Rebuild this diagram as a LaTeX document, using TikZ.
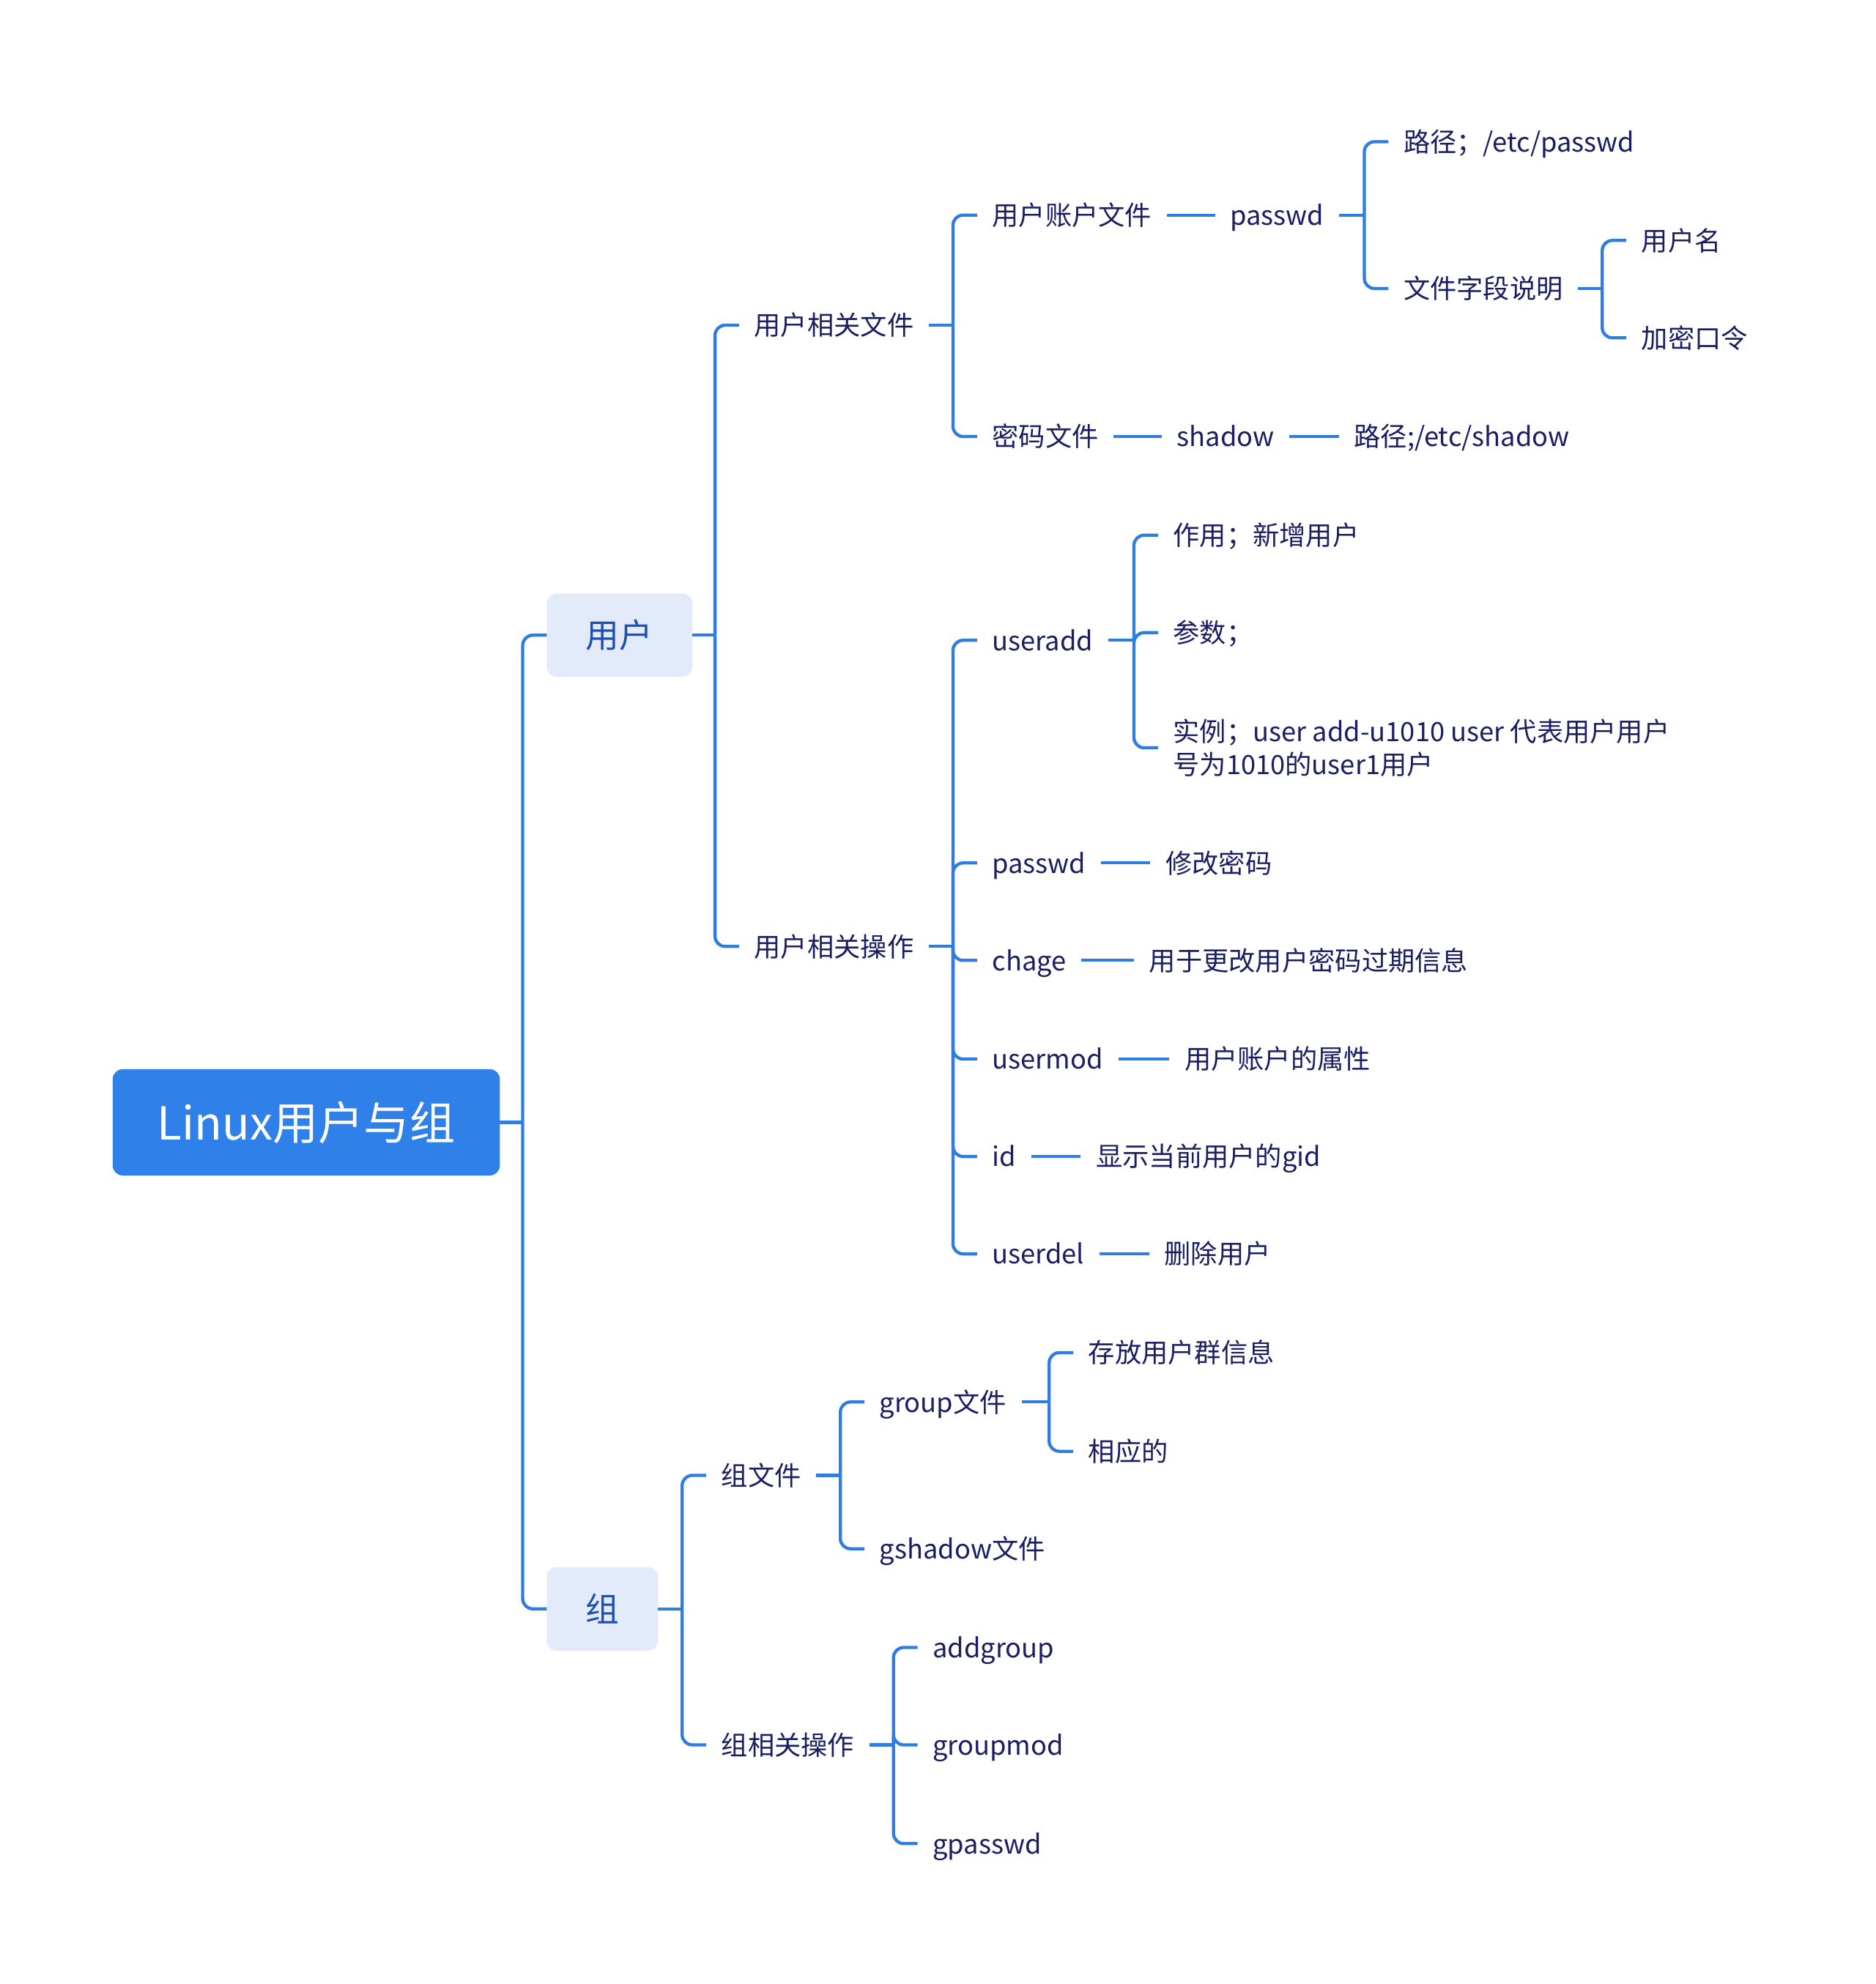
\documentclass[tikz,border=0pt]{standalone}
\usepackage{fontspec}
\setmainfont{Noto Sans CJK SC}
\usetikzlibrary{calc}
\definecolor{linec}{HTML}{2F7DE0}
\definecolor{txt}{HTML}{1A1F62}
\definecolor{rootc}{HTML}{2F80E8}
\definecolor{lvlfill}{HTML}{E3EBFB}
\definecolor{lvltxt}{HTML}{1D4FB0}
\newcommand\mybranch[3]{%
  \path (#2.west) ++(-19,0) coordinate (T);
  \draw[conn] (#1.east) -- (#1.east -| T);
  \foreach \c in {#3} {\draw[conn, rounded corners=4pt] (#1.east -| T) |- (\c.west);}
}
\begin{document}
\begin{tikzpicture}[x=0.5pt,y=-0.5pt,
  conn/.style={draw=linec, line width=1.25pt},
  leaf/.style={anchor=west, inner xsep=6pt, inner ysep=0pt, outer sep=0pt, text=txt,
    font=\fontsize{10.5pt}{13pt}\selectfont, text height=8.4pt, text depth=0.4pt},
  leafml/.style={anchor=west, inner xsep=6pt, inner ysep=0pt, outer sep=0pt, text=txt,
    font=\fontsize{10.5pt}{13pt}\selectfont, align=left},
  rootbox/.style={fill=rootc, text=white, rounded corners=4pt, minimum width=153pt,
    minimum height=42pt, inner sep=0pt, outer sep=0pt,
    font=\fontsize{18pt}{20pt}\selectfont, text height=14.4pt, text depth=0.7pt},
  lvlbox/.style={fill=lvlfill, text=lvltxt, rounded corners=4pt,
    minimum height=33pt, inner sep=0pt, outer sep=0pt,
    font=\fontsize{13.25pt}{15pt}\selectfont, text height=10.6pt, text depth=0.5pt}]
\useasboundingbox (0,0) rectangle (1482,1568);
\fill[white] (0,0) rectangle (1482,1568);

% root and level 1
\node[rootbox] (root) at (242,887) {Linux用户与组};
\node[lvlbox, minimum width=57.5pt] (u) at (489.5,502) {用户};
\node[lvlbox, minimum width=44pt] (g) at (476,1271.5) {组};

% users: files
\node[leaf] (f1) at (584,257) {用户相关文件};
\node[leaf] (o1) at (584,748) {用户相关操作};
\node[leaf] (a1) at (772,170) {用户账户文件};
\node[leaf] (a2) at (772,345) {密码文件};
\node[leaf] (pw) at (960,170) {passwd};
\node[leaf] (pp) at (1097,112) {路径；/etc/passwd};
\node[leaf] (fd) at (1097,228) {文件字段说明};
\node[leaf] (un) at (1285,190) {用户名};
\node[leaf] (ep) at (1285,267) {加密口令};
\node[leaf] (sh) at (918,345) {shadow};
\node[leaf] (sp) at (1058,345) {路径;/etc/shadow};

% users: operations
\node[leaf] (ua) at (772,506) {useradd};
\node[leaf] (ua1) at (915,423) {作用；新增用户};
\node[leaf] (ua2) at (915,500) {参数；};
\node[leafml] (ua3) at (915,591) {实例；user add-u1010 user 代表用户用户\\号为1010的user1用户};
\node[leaf] (p2) at (772,682) {passwd};
\node[leaf] (p2d) at (909,682) {修改密码};
\node[leaf] (ch) at (772,759) {chage};
\node[leaf] (chd) at (896,759) {用于更改用户密码过期信息};
\node[leaf] (um) at (772,837) {usermod};
\node[leaf] (umd) at (924,837) {用户账户的属性};
\node[leaf] (id) at (772,914) {id};
\node[leaf] (idd) at (854,914) {显示当前用户的gid};
\node[leaf] (ud) at (772,991) {userdel};
\node[leaf] (udd) at (908,991) {删除用户};

% groups
\node[leaf] (gf) at (558,1166) {组文件};
\node[leaf] (go) at (558,1379) {组相关操作};
\node[leaf] (gpf) at (683,1108) {group文件};
\node[leaf] (gsf) at (683,1224) {gshadow文件};
\node[leaf] (gi1) at (848,1069) {存放用户群信息};
\node[leaf] (gi2) at (848,1147) {相应的};
\node[leaf] (ag) at (725,1302) {addgroup};
\node[leaf] (gm) at (725,1379) {groupmod};
\node[leaf] (gp) at (725,1457) {gpasswd};

% connectors
\mybranch{root}{u}{u,g}
\mybranch{u}{f1}{f1,o1}
\mybranch{f1}{a1}{a1,a2}
\draw[conn] (a1.east) -- (pw.west);
\mybranch{pw}{pp}{pp,fd}
\mybranch{fd}{un}{un,ep}
\draw[conn] (a2.east) -- (sh.west);
\draw[conn] (sh.east) -- (sp.west);
\mybranch{o1}{ua}{ua,p2,ch,um,id,ud}
\mybranch{ua}{ua1}{ua1,ua2,ua3}
\draw[conn] (p2.east) -- (p2d.west);
\draw[conn] (ch.east) -- (chd.west);
\draw[conn] (um.east) -- (umd.west);
\draw[conn] (id.east) -- (idd.west);
\draw[conn] (ud.east) -- (udd.west);
\mybranch{g}{gf}{gf,go}
\mybranch{gf}{gpf}{gpf,gsf}
\mybranch{gpf}{gi1}{gi1,gi2}
\mybranch{go}{ag}{ag,gm,gp}
\end{tikzpicture}
\end{document}
